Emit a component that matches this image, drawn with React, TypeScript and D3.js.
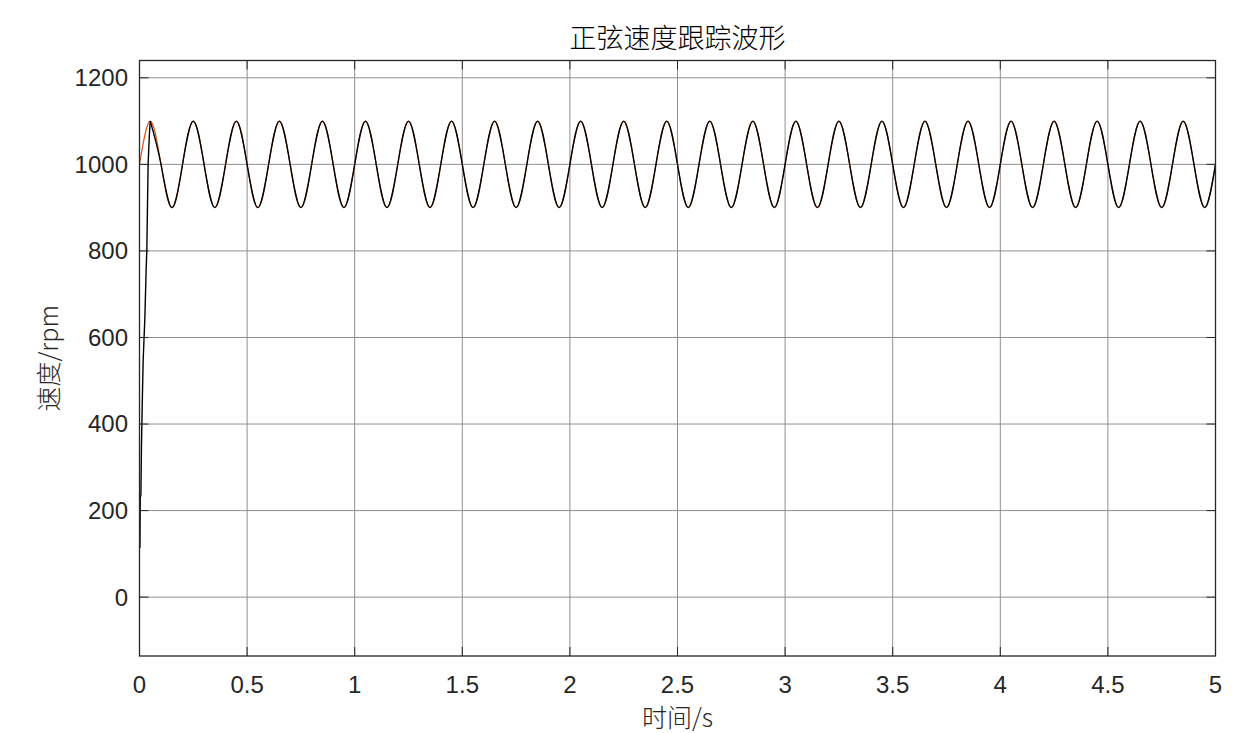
import React from 'react';
import * as d3 from 'd3';

// ---- data ----
const timeTicks = [0, 0.5, 1, 1.5, 2, 2.5, 3, 3.5, 4, 4.5, 5];
const timeTickLabels = ['0', '0.5', '1', '1.5', '2', '2.5', '3', '3.5', '4', '4.5', '5'];
const speedTicks = [0, 200, 400, 600, 800, 1000, 1200];
const speedTickLabels = ['0', '200', '400', '600', '800', '1000', '1200'];

// reference (given) speed, sampled every 0.05 s at the crossings and extrema
const refStep = 0.05;
const refSpeed = [
  1000, 1100, 1000, 900, 1000, 1100, 1000, 900, 1000, 1100, 1000, 900,
  1000, 1100, 1000, 900, 1000, 1100, 1000, 900, 1000, 1100, 1000, 900,
  1000, 1100, 1000, 900, 1000, 1100, 1000, 900, 1000, 1100, 1000, 900,
  1000, 1100, 1000, 900, 1000, 1100, 1000, 900, 1000, 1100, 1000, 900,
  1000, 1100, 1000, 900, 1000, 1100, 1000, 900, 1000, 1100, 1000, 900,
  1000, 1100, 1000, 900, 1000, 1100, 1000, 900, 1000, 1100, 1000, 900,
  1000, 1100, 1000, 900, 1000, 1100, 1000, 900, 1000, 1100, 1000, 900,
  1000, 1100, 1000, 900, 1000, 1100, 1000, 900, 1000, 1100, 1000, 900,
  1000, 1100, 1000, 900, 1000,
];

// actual speed during start-up (before it catches the reference)
const startupTime = [0.0, 0.002, 0.0035, 0.0065, 0.009, 0.013, 0.017, 0.025, 0.031, 0.034, 0.040, 0.046, 0.05];
const startupSpeed = [115, 115, 230, 236, 346, 454, 547, 646, 760, 800, 1000, 1070, 1100];

const W = 1241;
const H = 733;
const L = 139.5, R = 1215.5, T = 60.5, B = 656;
const axisColor = '#262626';
const gridColor = '#8f8f8f';
const font = '"Liberation Sans", Arial, Helvetica, sans-serif';
const cjkFont = '"Noto Sans CJK SC", "Liberation Sans", sans-serif';

export default function App() {
  const x = d3.scaleLinear().domain([0, 5]).range([L, R]);
  const y = d3.scaleLinear().domain([-136, 1240]).range([B, T]);

  const refPts: [number, number][] = refSpeed.map((v, i) => [i * refStep, v]);
  const trackPts = refPts.slice(1);
  const startPts: [number, number][] = startupTime.map((t, i) => [t, startupSpeed[i]]);

  const smooth = d3.line<[number, number]>().x(d => x(d[0])).y(d => y(d[1])).curve(d3.curveNatural);
  const straight = d3.line<[number, number]>().x(d => x(d[0])).y(d => y(d[1]));

  const tickLen = 9;

  return (
    <svg width={W} height={H} style={{ position: 'absolute', left: 0, top: 0, background: '#fff' }}>
      <rect x={0} y={0} width={W} height={H} fill="#fff" />
      <defs>
        <clipPath id="plot">
          <rect x={L} y={T} width={R - L} height={B - T} />
        </clipPath>
      </defs>
      {/* grid */}
      {timeTicks.map(t => (
        <line key={'gx' + t} x1={x(t)} x2={x(t)} y1={T} y2={B} stroke={gridColor} strokeWidth={1} />
      ))}
      {speedTicks.map(v => (
        <line key={'gy' + v} x1={L} x2={R} y1={y(v)} y2={y(v)} stroke={gridColor} strokeWidth={1} />
      ))}
      {/* data */}
      <g clipPath="url(#plot)">
        <path d={smooth(refPts) || ''} fill="none" stroke="#D95319" strokeWidth={1.1} />
        <path d={straight(startPts) || ''} fill="none" stroke="#000" strokeWidth={1.4} />
        <path d={smooth(trackPts) || ''} fill="none" stroke="#000" strokeWidth={1.4} />
      </g>
      {/* ticks */}
      {timeTicks.map(t => (
        <g key={'tx' + t}>
          <line x1={x(t)} x2={x(t)} y1={B} y2={B - tickLen} stroke={axisColor} strokeWidth={1} />
          <line x1={x(t)} x2={x(t)} y1={T} y2={T + tickLen} stroke={axisColor} strokeWidth={1} />
        </g>
      ))}
      {speedTicks.map(v => (
        <g key={'ty' + v}>
          <line x1={L} x2={L + tickLen} y1={y(v)} y2={y(v)} stroke={axisColor} strokeWidth={1} />
          <line x1={R} x2={R - tickLen} y1={y(v)} y2={y(v)} stroke={axisColor} strokeWidth={1} />
        </g>
      ))}
      {/* box */}
      <rect x={L} y={T} width={R - L} height={B - T} fill="none" stroke={axisColor} strokeWidth={1.3} />
      {/* tick labels */}
      {timeTicks.map((t, i) => (
        <text key={'lx' + t} x={x(t)} y={693} textAnchor="middle" fontFamily={font} fontSize={24} fill={axisColor}>
          {timeTickLabels[i]}
        </text>
      ))}
      {speedTicks.map((v, i) => (
        <text key={'ly' + v} x={128} y={y(v)} dy="0.35em" textAnchor="end" fontFamily={font} fontSize={24} fill={axisColor}>
          {speedTickLabels[i]}
        </text>
      ))}
      {/* title and axis labels */}
      <text x={(L + R) / 2} y={48} textAnchor="middle" fontFamily={cjkFont} fontSize={27} fontWeight={300} fill="#000">
        正弦速度跟踪波形
      </text>
      <text x={(L + R) / 2} y={727} textAnchor="middle" fontFamily={cjkFont} fontSize={25} fontWeight={300} fill={axisColor}>
        时间/s
      </text>
      <text transform={`translate(58, ${(T + B) / 2}) rotate(-90)`} textAnchor="middle" fontFamily={cjkFont} fontSize={25} fontWeight={300} fill={axisColor}>
        速度/rpm
      </text>
    </svg>
  );
}
